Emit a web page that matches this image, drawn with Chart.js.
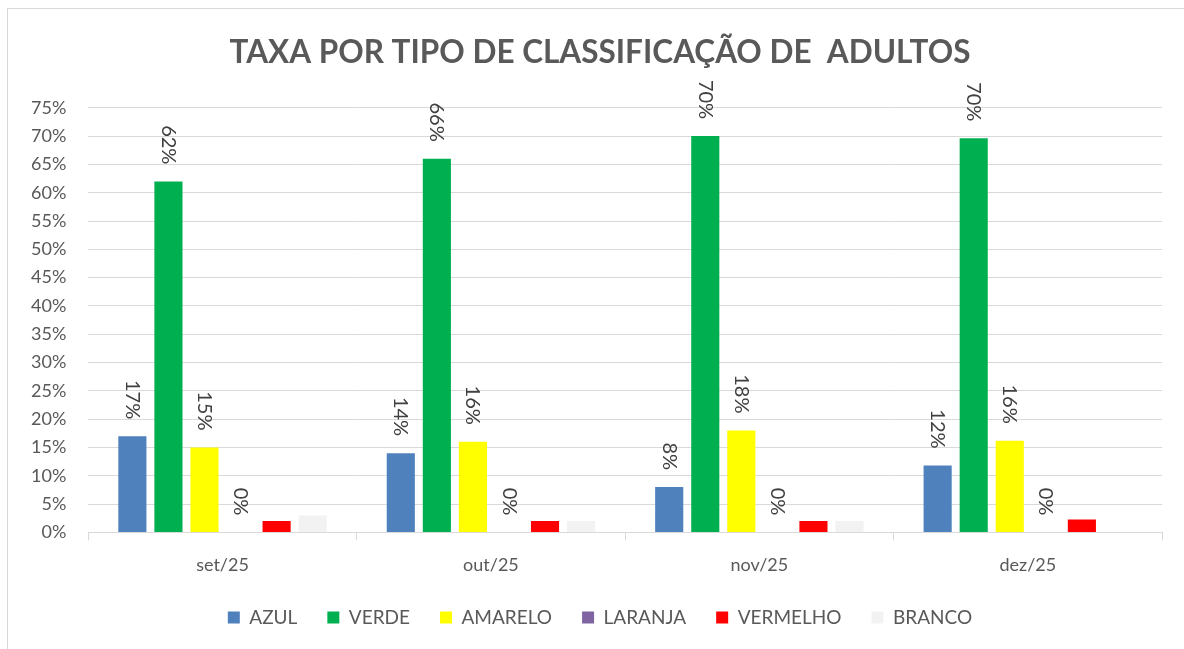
<!DOCTYPE html>
<html>
<head>
<meta charset="utf-8">
<script src="https://cdn.jsdelivr.net/npm/chart.js@4/dist/chart.umd.min.js"></script>
<style>
  html, body { margin: 0; padding: 0; background: #fff; overflow: hidden; }
  #frame { position: absolute; left: 7px; top: 8px; width: 1190px; height: 660px; border: 1px solid #d9d9d9; box-sizing: border-box; }
  #wrap { position: absolute; left: 0; top: 0; width: 1214px; height: 649px; }
</style>
</head>
<body>
<div id="frame"></div>
<div id="wrap"><canvas id="myChart"></canvas></div>
<script>
const categories = ['set/25', 'out/25', 'nov/25', 'dez/25'];
const azul = [17, 14, 8, 11.8];
const verde = [62, 66, 70, 69.6];
const amarelo = [15, 16, 18, 16.2];
const laranja = [0, 0, 0, 0];
const vermelho = [2, 2, 2, 2.3];
const branco = [3, 2, 2, 0];
const yTicks = [0, 5, 10, 15, 20, 25, 30, 35, 40, 45, 50, 55, 60, 65, 70, 75];

const FONT = 'Lato, "Liberation Sans", sans-serif';

// rotated value labels above bars (only for series flagged with showLabel)
const barLabels = {
    id: 'barLabels',
    afterDatasetsDraw(chart) {
        const ctx = chart.ctx;
        chart.data.datasets.forEach((ds, i) => {
            if (!ds.showLabel) return;
            const meta = chart.getDatasetMeta(i);
            meta.data.forEach((bar, j) => {
                const txt = Math.round(ds.data[j]) + '%';
                ctx.save();
                ctx.translate(bar.x, bar.y - 17);
                ctx.rotate(Math.PI / 2);
                ctx.font = '20px ' + FONT;
                ctx.fillStyle = '#404040';
                ctx.textAlign = 'right';
                ctx.textBaseline = 'middle';
                ctx.fillText(txt, 0, 0);
                ctx.restore();
            });
        });
    }
};

const ctx = document.getElementById('myChart').getContext('2d');

function series(label, data, color, showLabel) {
    return {
        label: label,
        data: data,
        backgroundColor: color,
        borderWidth: 0,
        showLabel: showLabel,
        categoryPercentage: 0.806,
        barPercentage: 0.78
    };
}

const myChart = new Chart(ctx, {
    type: 'bar',
    data: {
        labels: categories,
        datasets: [
            series('AZUL', azul, '#4f81bd', true),
            series('VERDE', verde, '#00b050', true),
            series('AMARELO', amarelo, '#ffff00', true),
            series('LARANJA', laranja, '#8064a2', true),
            series('VERMELHO', vermelho, '#ff0000', false),
            series('BRANCO', branco, '#f2f2f2', false)
        ]
    },
    options: {
        responsive: true,
        maintainAspectRatio: false,
        animation: false,
        layout: { padding: { left: 9, right: 23, top: 18, bottom: 12 } },
        plugins: {
            title: {
                display: true,
                text: 'TAXA POR TIPO DE CLASSIFICAÇÃO DE  ADULTOS',
                color: '#595959',
                font: { family: FONT, size: 31.5, weight: 'bold' },
                padding: { top: 16, bottom: 36 }
            },
            legend: {
                position: 'bottom',
                labels: {
                    color: '#595959',
                    font: { family: FONT, size: 19 },
                    boxWidth: 12,
                    boxHeight: 12,
                    padding: 30
                }
            },
            tooltip: { enabled: false }
        },
        scales: {
            x: {
                afterFit(scale) {
                    scale.height -= 12;
                },
                grid: {
                    display: true,
                    drawOnChartArea: false,
                    color: '#d9d9d9',
                    tickLength: 8
                },
                border: { color: '#d9d9d9' },
                ticks: {
                    color: '#595959',
                    font: { family: FONT, size: 18 },
                    padding: 14
                }
            },
            y: {
                min: 0,
                max: 75,
                afterBuildTicks(axis) {
                    axis.ticks = yTicks.map(v => ({ value: v }));
                },
                grid: { color: '#d9d9d9', drawTicks: false },
                border: { display: false },
                ticks: {
                    color: '#595959',
                    font: { family: FONT, size: 18 },
                    padding: 22,
                    callback: v => v + '%'
                }
            },
            // empty right-hand spacer so title and legend sit where the original has them
            spacer: {
                type: 'linear',
                position: 'right',
                grid: { display: false },
                border: { display: false },
                ticks: { display: false },
                afterFit(scale) {
                    scale.width = 29;
                }
            }
        }
    },
    plugins: [barLabels]
});
</script>
</body>
</html>
